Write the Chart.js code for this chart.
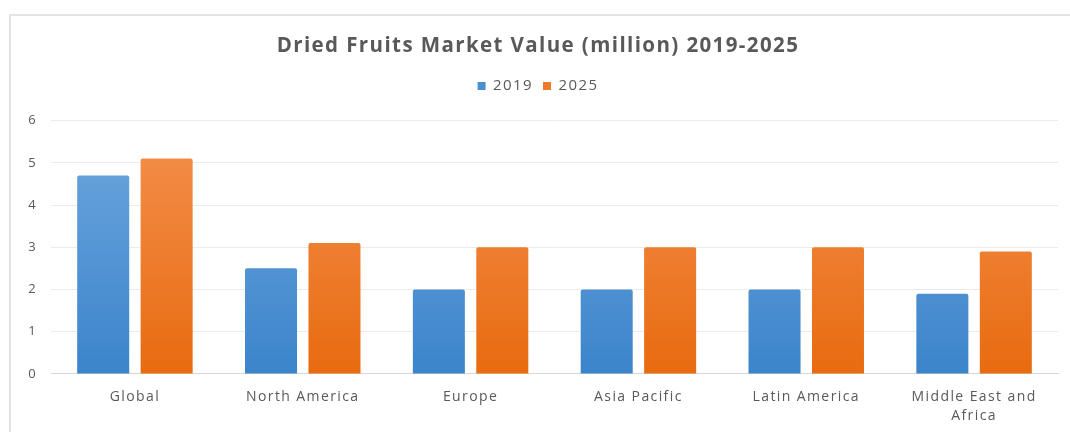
<!DOCTYPE html>
<html>
<head>
<meta charset="utf-8">
<title>Dried Fruits Market Value</title>
<script src="https://cdn.jsdelivr.net/npm/chart.js@4/dist/chart.umd.min.js"></script>
<style>
  html, body { margin: 0; padding: 0; background: #fff; }
  #wrap { position: relative; width: 1070px; height: 432px; }
  #frame {
    position: absolute; left: 9px; top: 14px; right: 0; bottom: 0;
    border-top: 2px solid #e3e3e3; border-left: 2px solid #e3e3e3;
    pointer-events: none;
  }
</style>
</head>
<body>
<div id="wrap">
  <canvas id="chart" width="1070" height="432"></canvas>
  <div id="frame"></div>
</div>
<script>
// regions and market values (million)
var regions = ['Global', 'North America', 'Europe', 'Asia Pacific', 'Latin America', ['Middle East and', 'Africa']];
var years = ['2019', '2025'];
var value2019 = [4.7, 2.5, 2.0, 2.0, 2.0, 1.9];
var value2025 = [5.1, 3.1, 3.0, 3.0, 3.0, 2.9];
var yTicks = [0, 1, 2, 3, 4, 5, 6];

var textColor = '#595959';
Chart.defaults.font.family = '"Open Sans", "DejaVu Sans", sans-serif';

// vertical gradient, lighter at the top of the plot area
function shade(top, bottom) {
  return function (ctx) {
    var area = ctx.chart.chartArea;
    if (!area) return bottom;
    var g = ctx.chart.ctx.createLinearGradient(0, area.top, 0, area.bottom);
    g.addColorStop(0, top);
    g.addColorStop(1, bottom);
    return g;
  };
}

// wider text tracking, and some room between legend and plot
var spacing = {
  id: 'spacing',
  beforeInit: function (chart) {
    var legend = chart.legend;
    if (legend) {
      var fit = legend.fit;
      legend.fit = function () {
        fit.call(this);
        this.height += 17;
      };
    }
  },
  beforeLayout: function (chart) { chart.ctx.letterSpacing = '1.4px'; },
  beforeDraw: function (chart) { chart.ctx.letterSpacing = '1.4px'; }
};

var chart = new Chart(document.getElementById('chart'), {
  type: 'bar',
  data: {
    labels: regions,
    datasets: [
      {
        label: years[0],
        data: value2019,
        backgroundColor: shade('#6fa8de', '#3b84cb'),
        legendColor: '#4a8fd2',
        borderRadius: 2,
        borderSkipped: 'bottom',
        categoryPercentage: 0.756,
        barPercentage: 0.82
      },
      {
        label: years[1],
        data: value2025,
        backgroundColor: shade('#f4914f', '#e86b10'),
        legendColor: '#ee7a2c',
        borderRadius: 2,
        borderSkipped: 'bottom',
        categoryPercentage: 0.756,
        barPercentage: 0.82
      }
    ]
  },
  plugins: [spacing],
  options: {
    animation: false,
    responsive: false,
    layout: { padding: { left: 18, right: 12, top: 15, bottom: 0 } },
    plugins: {
      title: {
        display: true,
        text: 'Dried Fruits Market Value (million) 2019-2025',
        color: textColor,
        font: { size: 20.5, weight: 'bold' },
        padding: { top: 19, bottom: 10 }
      },
      legend: {
        display: true,
        labels: {
          color: textColor,
          font: { size: 15 },
          boxWidth: 8,
          boxHeight: 8,
          padding: 10,
          generateLabels: function (c) {
            return c.data.datasets.map(function (ds, i) {
              return {
                text: ds.label,
                fillStyle: ds.legendColor,
                strokeStyle: ds.legendColor,
                lineWidth: 0,
                fontColor: textColor,
                datasetIndex: i
              };
            });
          }
        }
      },
      tooltip: { enabled: false }
    },
    scales: {
      x: {
        grid: { display: false },
        border: { color: '#d6d6d6', width: 1 },
        ticks: { color: textColor, font: { size: 14, lineHeight: 1.36 }, padding: 6, maxRotation: 0, autoSkip: false }
      },
      y: {
        min: yTicks[0],
        max: yTicks[yTicks.length - 1],
        afterFit: function (scale) { scale.width = 33; },
        afterBuildTicks: function (scale) {
          scale.ticks = yTicks.map(function (v) { return { value: v }; });
        },
        grid: { color: '#ebebeb', drawTicks: false },
        border: { display: false },
        ticks: { color: textColor, font: { size: 13 }, padding: 14 }
      }
    }
  }
});
</script>
</body>
</html>
